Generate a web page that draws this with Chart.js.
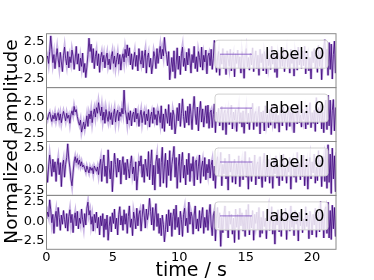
<!DOCTYPE html>
<html>
<head>
<meta charset="utf-8">
<script src="https://cdn.jsdelivr.net/npm/chart.js@4/dist/chart.umd.min.js"></script>
<style>
  html, body { margin: 0; padding: 0; background: #fff; }
  canvas { display: block; }
</style>
</head>
<body>
<canvas id="sigChart" width="374" height="280"></canvas>
<script>
// sampled signals, one per panel, 12 samples per row (time step below)
const sampleStep = 0.08;
const sigA = [
  0.1, 0.6, -0.4, 1.2, 3.3, 1.5, -0.3, 0.8, -1.1, 0.4, 1.6, 0.2,
  -0.9, 1.1, -0.2, -1.5, 0.7, 1.8, 0.3, -0.6, 1.2, -1.0, 0.5, -0.3,
  1.4, 0.6, -1.2, 0.2, 1.9, -0.5, 0.9, -1.4, 0.3, -0.8, 1.0, -1.6,
  -0.4, -2.3, -0.9, 0.8, 3.0, 1.2, 2.2, -0.3, 1.6, -1.1, 0.5, 1.3,
  -0.7, 0.9, -1.6, 0.4, 1.1, -0.2, 0.7, -1.0, 0.3, 1.0, -0.6, 0.2,
  -1.2, 0.5, 1.2, -0.4, 0.6, -0.9, 0.1, 1.0, -0.5, 0.8, -1.3, 0.3,
  0.9, -0.2, 1.5, 0.4, 2.1, 0.6, 1.7, -0.6, 0.9, -1.2, 0.2, 1.1,
  -0.8, 0.7, -1.4, 1.6, 0.1, -0.5, 1.3, -1.0, 0.6, 1.4, -1.7, 0.4,
  1.0, -0.9, 0.3, -1.8, -0.6, 1.2, 0.5, -1.1, 1.6, -0.4, 0.9, 1.9,
  0.2, 1.5, 0.6, 3.1, 1.4, 0.8, -0.7, 1.2, -2.6, -1.0, 0.4, -1.5,
  1.3, -2.4, -0.5, 1.7, -1.2, 0.6, -1.9, 0.9, 1.8, -0.8, 0.3, -1.4,
  1.1, -0.6, 1.6, 0.2, -1.7, 0.8, -0.3, 1.9, -1.1, 0.5, -1.5, 1.2,
  0.4, -0.9, 1.8, -1.3, 0.7, -0.2, 1.4, -1.8, 0.6, 1.0, -0.7, 1.5,
  -1.2, 0.3, 2.7, 0.9, -1.6, 0.4, 1.2, -2.0, 0.8, -0.5, 1.6, -1.1,
  0.7, -1.9, 1.3, 0.2, -0.8, 1.5, -1.4, 0.6, 1.1, -2.2, 0.9, -0.4,
  1.4, -1.0, 0.5, -1.7, 1.2, 0.3, -2.4, 0.8, 1.6, -0.9, 0.4, -1.3,
  1.0, -0.6, 1.7, -1.5, 0.2, 1.3, -1.1, 0.7, -2.0, 1.5, -0.3, 0.9,
  -1.4, 1.2, 0.5, -1.8, 1.6, -0.7, 0.3, -1.2, 1.9, -0.5, 1.1, -1.6,
  0.6, -2.3, 1.0, 0.4, -1.0, 1.4, -0.8, 1.7, -1.5, 0.2, 1.2, -0.9,
  0.8, -1.7, 1.5, -0.4, 0.9, -2.1, 1.1, 0.3, -1.3, 1.8, -0.6, 0.5,
  -1.1, 1.3, -0.7, 1.9, -1.8, 0.6, 1.0, -1.4, 0.4, -2.5, 1.2, -0.3,
  1.6, -1.0, 0.7, -1.6, 2.0, -0.8, 1.3, -2.6, 0.5, 1.8, 2.8, -0.9,
  1.5, -2.0, 2.4, -1.2, 2.2, -2.5, 0.8, 2.6, -1.7, 1.9, -1.3, 1.0
];
const sigB = [
  0.2, -0.3, 0.5, 0.9, 0.1, -0.6, 0.4, -0.2, 0.7, -0.5, 0.3, 0.8,
  -0.4, 0.6, -0.8, 0.2, 1.0, 0.3, -0.5, 0.7, -0.1, 0.4, -0.9, 0.5,
  1.1, 0.4, 1.8, 0.9, 1.3, 0.2, -0.6, -1.2, -0.4, -2.3, -1.5, -0.7,
  -1.8, -0.9, 0.3, -1.4, 0.6, -0.2, 1.1, -0.8, 0.5, 1.4, 0.1, 1.6,
  0.7, 2.4, 1.2, 0.3, 1.7, -0.4, 0.9, -0.9, 1.3, 0.2, -0.6, 1.0,
  -0.3, 0.8, -1.1, 0.5, 1.4, -0.7, 0.6, 1.2, -0.5, 0.9, 0.2, 1.5,
  0.6, 4.4, 1.3, 0.4, -1.0, 0.8, -0.4, 1.1, -1.3, 0.5, 0.9, -0.7,
  1.5, -0.2, 0.7, -1.4, 0.3, 1.2, -0.8, 0.4, 1.0, -1.1, 0.6, -0.5,
  1.3, -1.5, 0.2, 0.9, -0.9, 1.6, -0.3, 0.5, -1.2, 1.1, 0.4, -0.8,
  1.9, -1.7, 0.6, -2.2, 1.4, 0.3, -0.9, 2.1, -1.3, 0.8, -1.9, 1.2,
  0.4, -2.6, -1.0, 1.6, -0.5, 2.3, -1.4, 0.7, 3.0, 0.2, -1.6, 1.1,
  -0.8, 1.8, -1.2, 2.2, 0.5, -1.9, 1.3, 3.4, 0.6, -1.1, 1.7, -2.1,
  0.9, 2.6, -0.7, 1.4, -1.5, 0.3, 1.9, -0.9, 2.0, -1.7, 0.8, 1.2,
  -1.6, 0.5, 2.2, -2.4, 0.9, -0.6, 1.5, -1.3, 0.4, 1.8, -2.0, 0.7,
  1.2, -2.7, 0.6, 1.4, -1.1, 0.3, 2.0, -1.8, 0.9, -0.4, 1.3, -2.2,
  0.5, 1.7, -0.9, 0.8, -1.5, 1.1, -2.5, 0.4, 1.6, -1.0, 0.7, -1.9,
  1.4, -0.6, 2.3, -1.9, 0.6, 1.0, -1.4, 0.3, 1.8, -2.6, 0.9, -0.8,
  1.1, -2.1, 1.9, -0.7, 0.5, -1.6, 1.3, -1.2, 2.0, -0.4, 0.8, -1.7,
  1.5, -0.9, 0.4, -2.3, 1.2, 0.7, -1.3, 1.7, -0.6, 1.0, -2.0, 0.3,
  1.8, -1.4, 0.9, -0.5, 1.6, -2.4, 0.6, 1.1, -1.0, 2.1, -0.8, 0.4,
  -1.5, 1.3, -0.3, 0.9, -1.8, 1.7, -1.1, 0.5, 2.4, -1.6, 0.8, -0.9,
  1.2, -2.2, 3.2, -1.0, 1.6, -0.6, 2.1, -1.8, 0.9, -2.4, 1.5, 2.8,
  -1.9, 3.6, -1.3, 2.8, -2.7, 1.1, 2.9, -2.1, 1.6, -1.2, 2.3, 0.5
];
const sigC = [
  0.0, -1.5, 0.4, 1.7, 0.6, -0.8, 1.2, -0.3, 0.9, -1.4, 0.5, 1.3,
  -0.6, 0.8, -2.0, 0.4, 1.1, -0.9, 0.6, 1.4, 3.0, 1.2, 0.2, -1.1,
  -1.9, -0.4, 0.9, 1.5, 0.8, 1.3, 0.6, 1.1, 0.4, 0.9, 0.3, 0.5,
  0.1, -0.3, 0.4, 0.0, -0.4, 0.3, -0.1, 0.2, -0.5, 0.4, 0.1, -0.2,
  0.3, -0.6, 0.5, 1.2, -1.4, 0.7, 1.7, -0.8, 0.4, -1.6, 2.3, 0.2,
  -1.1, 1.0, -2.6, -0.4, 1.9, 0.6, -0.9, 1.3, -0.3, 1.1, -1.7, 0.5,
  1.5, -0.6, 0.8, -1.2, 1.2, 0.1, -1.0, 0.7, 1.6, -0.5, 0.3, -1.3,
  0.9, -2.4, -0.7, 1.0, 0.4, 1.6, -0.9, 0.6, -1.5, 1.2, 0.2, -0.8,
  2.1, -1.2, 0.7, 2.3, -1.8, 0.5, -2.4, 0.9, 1.7, -0.5, 1.3, -2.0,
  0.8, 2.6, -1.6, 0.4, 1.9, -2.1, 1.1, -0.7, 2.2, -1.3, 0.6, 1.5,
  2.7, -0.9, 1.4, -2.2, 0.3, 1.8, -1.5, 0.9, 2.0, -1.0, 0.5, -1.8,
  1.2, -0.6, 1.9, -1.4, 0.7, -0.2, 1.5, -1.9, 0.8, 1.1, -1.2, 0.4,
  1.7, -1.6, 0.3, 1.0, -0.8, 1.4, -1.2, 0.6, -0.4, 1.2, -1.0, 0.5,
  1.1, -1.3, 0.4, -2.2, 0.9, 1.5, -0.7, 0.2, 2.0, -1.9, 0.6, -0.5,
  1.3, -1.1, 0.8, -2.4, 1.8, -0.3, 0.9, -1.5, 0.4, 1.2, -1.7, 0.7,
  -0.6, 1.6, -2.0, 0.5, 1.1, -1.2, 0.3, 2.1, -0.9, 0.8, -2.3, 1.4,
  0.2, -1.4, 1.0, -0.6, 1.7, -1.8, 0.6, 0.9, -1.1, 1.5, -0.4, -2.1,
  0.7, 1.9, -1.4, 0.4, -0.8, 1.2, -1.6, 0.9, 0.3, -2.2, 1.3, -0.5,
  1.6, -1.0, 0.5, -1.9, 1.1, 0.6, -1.3, 1.8, -0.7, 0.2, -1.6, 1.0,
  -0.3, 1.4, -2.3, 0.8, 1.2, -0.9, 0.4, -1.5, 2.0, -0.6, 0.7, -1.2,
  1.3, -0.8, 1.7, -1.9, 0.5, 1.0, -2.3, 0.6, 1.4, -1.1, 0.9, -0.4,
  1.8, -1.6, 0.3, -1.3, 2.2, -0.7, 1.1, -2.0, 0.8, 1.5, -1.4, 2.4,
  -2.2, 2.9, -1.5, 1.8, -2.8, 2.5, -1.1, 1.6, -2.6, 2.0, -0.9, 1.2
];
const sigD = [
  0.3, 1.2, 0.6, 2.8, 1.5, -0.2, 0.9, -1.6, 0.4, 1.3, -0.7, 1.8,
  0.5, -1.2, 0.8, -0.4, 1.4, 0.2, -0.9, 1.0, -1.3, 0.6, 1.5, -0.2,
  0.9, -1.5, 0.3, 1.1, -0.6, 1.3, -1.0, 0.4, -0.3, 1.6, 0.2, -0.8,
  1.0, -0.5, 1.7, 2.5, 0.8, 1.4, -0.4, 0.6, -1.3, 0.9, -0.2, 1.2,
  -0.9, 0.5, -1.8, 0.7, -0.6, 1.0, -2.1, 0.3, -1.1, 0.8, -2.5, -0.7,
  0.6, -1.4, 1.1, -0.3, 1.6, -1.0, 0.4, -1.8, 0.9, 1.9, -0.5, 0.7,
  -1.2, 1.5, -0.4, 1.0, -1.6, 0.6, 2.0, -0.8, 0.3, -1.9, 1.2, 0.4,
  -1.0, 1.7, -0.6, 0.9, 1.4, -1.3, 0.5, 2.2, 0.8, -0.9, 1.6, 0.2,
  1.1, 3.0, 1.3, -0.5, 1.8, -1.2, 0.7, 2.3, -0.7, 1.0, -1.6, 0.4,
  -1.9, 0.8, -0.4, -2.7, -1.1, 0.9, -1.4, 1.5, -0.6, 1.1, -2.0, 0.6,
  1.6, -1.1, 2.1, -0.8, 0.5, -1.8, 1.3, 0.2, -2.0, 0.9, 1.7, -0.6,
  0.4, -1.5, 2.5, -0.4, 1.2, 0.6, -1.7, 0.8, 2.0, -1.0, 0.3, -1.3,
  1.4, -0.9, 0.7, 1.8, -1.6, 0.5, -0.8, 1.5, -1.2, 0.9, 2.2, -0.5,
  -1.9, 0.7, 1.3, -2.6, 0.4, 1.8, -0.9, 1.1, -3.3, 0.5, -1.5, 0.8,
  2.0, -1.2, 0.6, -2.2, 1.3, -0.4, 0.9, -1.7, 0.4, -2.8, 1.6, -0.8,
  0.9, -2.4, 1.7, -0.6, 1.1, -1.3, 0.6, -2.0, 1.5, -1.0, 2.2, -1.8,
  0.7, -0.9, 1.4, -2.5, 0.9, -0.3, 1.2, -1.1, 1.8, -2.1, 0.5, -1.6,
  1.3, -0.7, 0.4, -2.3, 0.8, 1.6, -1.2, 0.3, 1.9, -1.7, 0.6, -3.0,
  1.1, -0.5, 1.5, -1.4, 0.7, -2.0, 1.2, 0.2, -1.0, 1.7, -2.4, 0.6,
  1.0, -1.3, 2.0, -0.8, 0.5, -1.9, 1.4, -0.4, 0.9, -2.6, 1.2, -0.6,
  1.6, -1.5, 0.3, -1.1, 1.9, -0.7, 0.8, -2.3, 1.3, 0.4, -1.8, 0.9,
  -0.5, 1.7, -2.1, 0.6, 1.2, -1.4, 2.6, -1.1, 0.8, -2.2, 1.5, 1.9,
  -1.6, 2.5, -2.2, 1.4, -2.4, 2.1, -1.0, 1.8, -2.0, 0.9, 1.4, -0.6
];
const panelSignals = [sigA, sigB, sigC, sigD];
const panelLabels = ["label: 0", "label: 0", "label: 0", "label: 0"];
const yLimits = [[-3.65, 3.6], [-3.8, 4.8], [-3.02, 3.27], [-3.68, 3.38]];
const yTicks = [-2.5, 0, 2.5];
const xTicks = [0, 5, 10, 15, 20];
const xMax = 21.8;

const darkLine = "rgba(62, 4, 124, 0.9)";
const lightLine = "rgba(140, 95, 200, 0.45)";
const fontFam = "'DejaVu Sans', sans-serif";

function toPoints(sig) {
  return sig.map((v, i) => ({ x: i * sampleStep, y: v }));
}

const datasets = [];
panelSignals.forEach((sig, k) => {
  const axis = "y" + (k + 1);
  datasets.push({
    label: panelLabels[k], data: toPoints(sig), yAxisID: axis,
    borderColor: darkLine, borderWidth: 0.9, order: 0
  });
  datasets.push({
    label: panelLabels[k], data: toPoints(sig), yAxisID: axis,
    borderColor: lightLine, borderWidth: 2.6, order: 1
  });
});

const scales = {
  x: {
    type: "linear", min: 0, max: xMax,
    grid: { display: false, drawTicks: false },
    border: { display: false },
    afterBuildTicks: (s) => { s.ticks = xTicks.map(v => ({ value: v })); },
    afterFit: (s) => { s.height = 30.7; },
    ticks: { padding: 1, maxRotation: 0, autoSkip: false, color: "#000",
      font: { family: fontFam, size: 13 },
      callback: (v) => String(v) }
  }
};
// stacked axes are laid out bottom-up in insertion order, so add the last panel first
for (let k = yLimits.length - 1; k >= 0; k--) {
  const lim = yLimits[k];
  scales["y" + (k + 1)] = {
    type: "linear", position: "left", stack: "panels", stackWeight: 1,
    min: lim[0], max: lim[1],
    grid: { display: false, drawTicks: false },
    border: { display: false },
    afterBuildTicks: (s) => { s.ticks = yTicks.map(v => ({ value: v })); },
    afterFit: (s) => { s.width = 46.5; },
    ticks: { padding: 2, autoSkip: false, color: "#000",
      font: { family: fontFam, size: 13 },
      callback: (v) => (v < 0 ? "\u2212" : "") + Math.abs(v).toFixed(1) }
  };
}

// frames, legends and axis titles
const panelDecor = {
  id: "panelDecor",
  afterDatasetsDraw(chart) {
    const ctx = chart.ctx;
    const area = chart.chartArea;
    ctx.save();
    for (let k = 0; k < panelSignals.length; k++) {
      const s = chart.scales["y" + (k + 1)];
      const bw = 113, bh = 28;
      const bx = area.right - 8 - bw, by = s.top + 6.5;
      ctx.beginPath();
      ctx.roundRect(bx, by, bw, bh, 3);
      ctx.fillStyle = "rgba(255,255,255,0.82)";
      ctx.fill();
      ctx.strokeStyle = "rgba(204,204,204,0.9)";
      ctx.lineWidth = 1;
      ctx.stroke();
      const cy = by + bh / 2;
      ctx.beginPath();
      ctx.moveTo(bx + 5, cy);
      ctx.lineTo(bx + 37, cy);
      ctx.strokeStyle = "rgba(120, 70, 190, 0.8)";
      ctx.lineWidth = 1;
      ctx.stroke();
      ctx.fillStyle = "#000";
      ctx.font = "16px " + fontFam;
      ctx.textBaseline = "middle";
      ctx.textAlign = "left";
      ctx.fillText(panelLabels[k], bx + 50, cy + 1);
      ctx.strokeStyle = "#8a8a8a";
      ctx.lineWidth = 1;
      ctx.strokeRect(area.left, s.top, area.right - area.left, s.bottom - s.top);
    }
    ctx.fillStyle = "#000";
    ctx.textAlign = "center";
    ctx.textBaseline = "middle";
    ctx.font = "19px " + fontFam;
    ctx.fillText("time / s", (area.left + area.right) / 2, 271);
    ctx.translate(12, (area.top + area.bottom) / 2);
    ctx.rotate(-Math.PI / 2);
    ctx.font = "18.5px " + fontFam;
    ctx.fillText("Normalized amplitude", 0, 0);
    ctx.restore();
  }
};

new Chart(document.getElementById("sigChart").getContext("2d"), {
  type: "line",
  data: { datasets: datasets },
  options: {
    responsive: false,
    devicePixelRatio: 1,
    animation: false,
    layout: { padding: { top: 33.7, right: 38, left: 0, bottom: 0 } },
    elements: { point: { radius: 0 }, line: { tension: 0 } },
    plugins: { legend: { display: false }, tooltip: { enabled: false } },
    scales: scales
  },
  plugins: [panelDecor]
});
</script>
</body>
</html>
